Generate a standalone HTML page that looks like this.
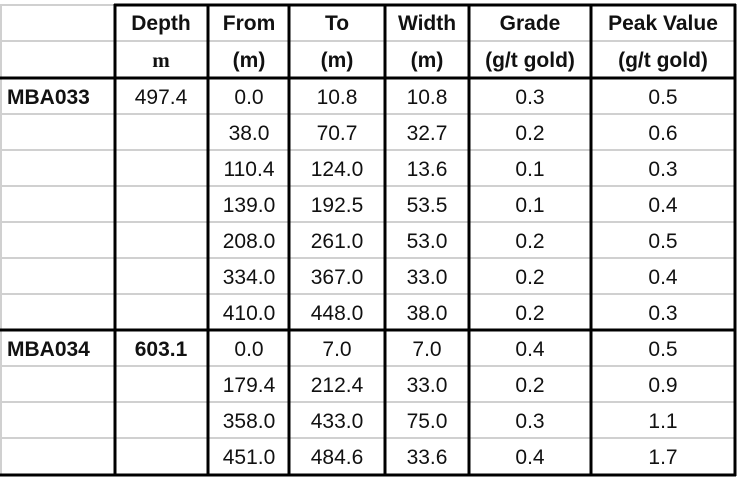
<!DOCTYPE html>
<html><head><meta charset="utf-8"><style>
html,body{margin:0;padding:0;background:#fff;width:744px;height:484px;overflow:hidden}
svg text{font-family:"Liberation Sans",Arial,sans-serif;font-size:21px;fill:#111}
.b{font-weight:bold}
</style></head><body>
<svg width="744" height="484" viewBox="0 0 744 484">
<g stroke="#d0d0d0" stroke-width="2">
<line x1="0" y1="5" x2="115" y2="5"/>
<line x1="0" y1="41" x2="735" y2="41"/>
<line x1="0" y1="114" x2="735" y2="114"/><line x1="0" y1="150" x2="735" y2="150"/>
<line x1="0" y1="186" x2="735" y2="186"/><line x1="0" y1="222" x2="735" y2="222"/>
<line x1="0" y1="258" x2="735" y2="258"/><line x1="0" y1="294" x2="735" y2="294"/>
<line x1="0" y1="366" x2="735" y2="366"/><line x1="0" y1="402" x2="735" y2="402"/>
<line x1="0" y1="438" x2="735" y2="438"/>
<line x1="1" y1="5" x2="1" y2="475"/>
</g>
<g stroke="#000" stroke-width="3">
<line x1="114" y1="5" x2="736" y2="5"/>
<line x1="0" y1="78" x2="736" y2="78"/>
<line x1="0" y1="330" x2="736" y2="330"/>
<line x1="0" y1="475" x2="736" y2="475"/>
<line x1="115" y1="4" x2="115" y2="476"/><line x1="208" y1="4" x2="208" y2="476"/>
<line x1="289" y1="4" x2="289" y2="476"/><line x1="385" y1="4" x2="385" y2="476"/>
<line x1="469" y1="4" x2="469" y2="476"/><line x1="591" y1="4" x2="591" y2="476"/>
<line x1="735" y1="4" x2="735" y2="476"/>
</g>
<g class="b" text-anchor="middle">
<text x="161" y="30" class="b">Depth</text><text x="249" y="30" class="b">From</text><text x="337" y="30" class="b">To</text><text x="427" y="30" class="b">Width</text><text x="530" y="30" class="b">Grade</text><text x="663" y="30" class="b">Peak Value</text>
<text x="161" y="67" class="b" style="font-family:'Liberation Serif',serif">m</text><text x="249" y="67" class="b">(m)</text><text x="337" y="67" class="b">(m)</text><text x="427" y="67" class="b">(m)</text><text x="530" y="67" class="b">(g/t gold)</text><text x="663" y="67" class="b">(g/t gold)</text>
</g>
<text x="7" y="104" class="b">MBA033</text>
<text x="7" y="356" class="b">MBA034</text>
<g text-anchor="middle">
<text x="161" y="104">497.4</text>
<text x="161" y="356" class="b">603.1</text>
<text x="249" y="104">0.0</text><text x="337" y="104">10.8</text><text x="427" y="104">10.8</text><text x="530" y="104">0.3</text><text x="663" y="104">0.5</text>
<text x="249" y="140">38.0</text><text x="337" y="140">70.7</text><text x="427" y="140">32.7</text><text x="530" y="140">0.2</text><text x="663" y="140">0.6</text>
<text x="249" y="176">110.4</text><text x="337" y="176">124.0</text><text x="427" y="176">13.6</text><text x="530" y="176">0.1</text><text x="663" y="176">0.3</text>
<text x="249" y="212">139.0</text><text x="337" y="212">192.5</text><text x="427" y="212">53.5</text><text x="530" y="212">0.1</text><text x="663" y="212">0.4</text>
<text x="249" y="248">208.0</text><text x="337" y="248">261.0</text><text x="427" y="248">53.0</text><text x="530" y="248">0.2</text><text x="663" y="248">0.5</text>
<text x="249" y="284">334.0</text><text x="337" y="284">367.0</text><text x="427" y="284">33.0</text><text x="530" y="284">0.2</text><text x="663" y="284">0.4</text>
<text x="249" y="320">410.0</text><text x="337" y="320">448.0</text><text x="427" y="320">38.0</text><text x="530" y="320">0.2</text><text x="663" y="320">0.3</text>
<text x="249" y="356">0.0</text><text x="337" y="356">7.0</text><text x="427" y="356">7.0</text><text x="530" y="356">0.4</text><text x="663" y="356">0.5</text>
<text x="249" y="392">179.4</text><text x="337" y="392">212.4</text><text x="427" y="392">33.0</text><text x="530" y="392">0.2</text><text x="663" y="392">0.9</text>
<text x="249" y="428">358.0</text><text x="337" y="428">433.0</text><text x="427" y="428">75.0</text><text x="530" y="428">0.3</text><text x="663" y="428">1.1</text>
<text x="249" y="464">451.0</text><text x="337" y="464">484.6</text><text x="427" y="464">33.6</text><text x="530" y="464">0.4</text><text x="663" y="464">1.7</text>
</g>
</svg>
</body></html>
